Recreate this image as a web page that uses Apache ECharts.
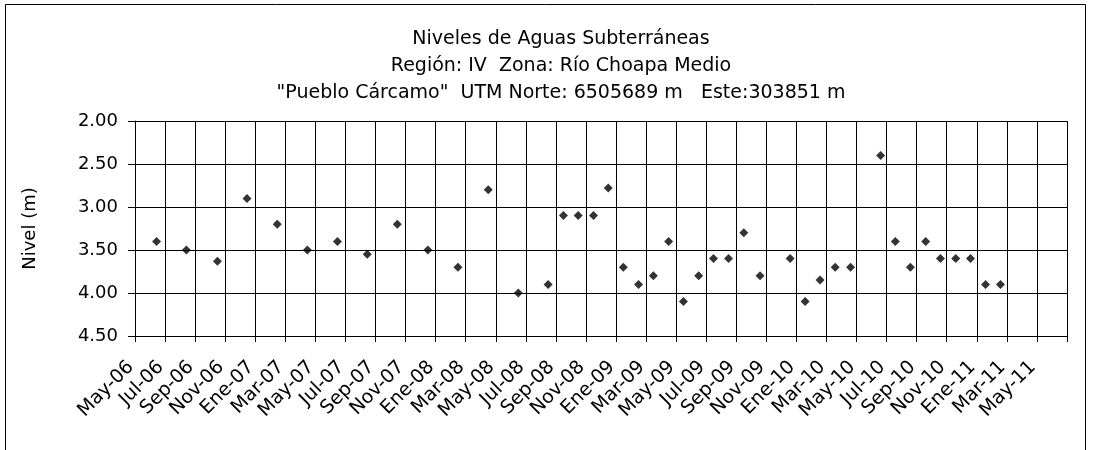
<!DOCTYPE html>
<html>
<head>
<meta charset="utf-8">
<title>Niveles de Aguas Subterráneas</title>
<script src="https://cdn.jsdelivr.net/npm/echarts@6/dist/echarts.min.js"></script>
<style>
  html, body { margin: 0; padding: 0; background: #fff; }
  #chart { width: 1093px; height: 450px; }
</style>
</head>
<body>
<div id="chart"></div>
<script>
// tick labels, one every 2 months starting May-06
var tickLabels = [
  "May-06", "Jul-06", "Sep-06", "Nov-06", "Ene-07", "Mar-07", "May-07", "Jul-07",
  "Sep-07", "Nov-07", "Ene-08", "Mar-08", "May-08", "Jul-08", "Sep-08", "Nov-08",
  "Ene-09", "Mar-09", "May-09", "Jul-09", "Sep-09", "Nov-09", "Ene-10", "Mar-10",
  "May-10", "Jul-10", "Sep-10", "Nov-10", "Ene-11", "Mar-11", "May-11"
];

// fechas de medicion (yyyy-mm-dd)
var fechas = [
  "2006-06-14", "2006-08-14", "2006-10-16", "2006-12-15", "2007-02-14", "2007-04-15",
  "2007-06-15", "2007-08-15", "2007-10-15", "2007-12-16", "2008-02-15", "2008-04-16",
  "2008-06-16", "2008-08-16", "2008-09-16", "2008-10-16", "2008-11-16", "2008-12-16",
  "2009-01-16", "2009-02-15", "2009-03-16", "2009-04-16", "2009-05-16", "2009-06-16",
  "2009-07-16", "2009-08-16", "2009-09-16", "2009-10-19", "2009-12-19", "2010-01-19",
  "2010-02-17", "2010-03-19", "2010-04-19", "2010-06-19", "2010-07-19", "2010-08-19",
  "2010-09-19", "2010-10-19", "2010-11-19", "2010-12-19", "2011-01-19", "2011-02-17"
];

// nivel (m)
var niveles = [
  3.40, 3.50, 3.63, 2.90, 3.20, 3.50,
  3.40, 3.55, 3.20, 3.50, 3.70, 2.80,
  4.00, 3.90, 3.10, 3.10, 3.10, 2.78,
  3.70, 3.90, 3.80, 3.40, 4.10, 3.80,
  3.60, 3.60, 3.30, 3.80, 3.60, 4.10,
  3.85, 3.70, 3.70, 2.40, 3.40, 3.70,
  3.40, 3.60, 3.60, 3.60, 3.90, 3.90
];

// months since May 2006 (fractional)
function monthIndex(s) {
  var p = s.split("-");
  var y = +p[0], m = +p[1], d = +p[2];
  var dim = new Date(y, m, 0).getDate();
  return (y - 2006) * 12 + (m - 5) + (d - 1) / dim;
}

var puntos = fechas.map(function (f, i) {
  return [monthIndex(f), niveles[i]];
});

var font = "DejaVu Sans, Arial, sans-serif";
var chart = echarts.init(document.getElementById("chart"));

chart.setOption({
  animation: false,
  backgroundColor: "#fff",
  title: {
    text: "Niveles de Aguas Subterráneas\nRegión: IV  Zona: Río Choapa Medio\n\"Pueblo Cárcamo\"  UTM Norte: 6505689 m   Este:303851 m",
    left: 556,
    top: 21,
    textAlign: "center",
    textStyle: {
      fontFamily: font,
      fontSize: 19,
      fontWeight: "normal",
      color: "#000",
      lineHeight: 27
    }
  },
  graphic: [
    {
      type: "rect",
      shape: { x: 5.5, y: 4.5, width: 1080, height: 460 },
      style: { fill: "none", stroke: "#000", lineWidth: 1 },
      silent: true
    }
  ],
  grid: {
    left: 135,
    right: 26,
    top: 121,
    bottom: 114
  },
  xAxis: {
    type: "value",
    min: 0,
    max: 62,
    interval: 2,
    axisLine: { show: true, lineStyle: { color: "#000", width: 1 } },
    axisTick: { show: true, length: 6, lineStyle: { color: "#000" } },
    splitLine: { show: true, lineStyle: { color: "#000", width: 1 } },
    axisLabel: {
      rotate: 45,
      margin: 24,
      padding: [0, 6, 0, 0],
      fontFamily: font,
      fontSize: 19,
      color: "#000",
      showMaxLabel: true,
      formatter: function (v) {
        return tickLabels[Math.round(v / 2)] || "";
      }
    }
  },
  yAxis: {
    type: "value",
    inverse: true,
    min: 2,
    max: 4.5,
    interval: 0.5,
    name: "Nivel (m)",
    nameLocation: "middle",
    nameGap: 96,
    nameTextStyle: { fontFamily: font, fontSize: 18, color: "#000" },
    axisLine: { show: true, lineStyle: { color: "#000", width: 1 } },
    axisTick: { show: true, length: 7, lineStyle: { color: "#000" } },
    splitLine: { show: true, lineStyle: { color: "#000", width: 1 } },
    axisLabel: {
      margin: 17,
      fontFamily: font,
      fontSize: 18,
      color: "#000",
      formatter: function (v) { return v.toFixed(2); }
    }
  },
  series: [
    {
      type: "scatter",
      symbol: "diamond",
      symbolSize: 9,
      itemStyle: { color: "#000" },
      data: puntos
    }
  ]
});
</script>
</body>
</html>
